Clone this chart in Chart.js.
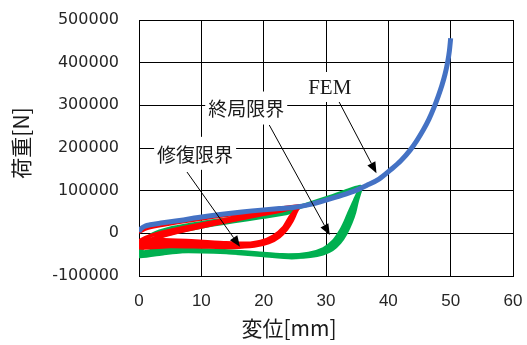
<!DOCTYPE html>
<html>
<head>
<meta charset="utf-8">
<script src="https://cdn.jsdelivr.net/npm/chart.js@4/dist/chart.umd.min.js"></script>
<style>
  html, body { margin: 0; padding: 0; background: #fff; }
  canvas { display: block; }
</style>
</head>
<body>
<canvas id="c" width="527" height="345"></canvas>
<script>
// Axis ranges and tick steps
const xTicks = { min: 0, max: 60, step: 10 };
const yTicks = { min: -100000, max: 500000, step: 100000 };

// FEM analysis: load [N] vs displacement [mm]
const femCurve = [
  [0, 4000], [0.4, 12000], [1, 17000], [1.8, 20000], [3.5, 24000], [6.5, 30000],
  [9.5, 37000], [13, 44000], [16.5, 50000], [20, 55000], [22.5, 58000], [25, 61000],
  [27.5, 68000], [30, 78000], [32.5, 89000], [35, 102000], [36.5, 112000],
  [38.5, 127000], [40.3, 148000], [42, 170000], [43.5, 195000], [44.6, 218000],
  [45.6, 242000], [46.5, 267000], [47.3, 294000], [48, 321000], [48.6, 347000],
  [49.1, 373000], [49.5, 400000], [49.8, 428000], [50, 457000]
];

// Cyclic test up to the repair limit (several recorded cycles)
const repairLimitLoop = [
  [0, 2000], [1, 10000], [3, 17000], [7, 27000], [12, 38000], [17, 48000], [21, 55000], [25.6, 64000],
  [25.2, 50000], [24.6, 30000], [23.7, 10000], [22.5, -8000], [20.8, -22000], [18.5, -30000],
  [15, -33000], [10, -32000], [5, -31000], [0, -34000],
  [1, -22000], [3, -10000], [6, 2000], [10, 15000], [14, 27000], [18, 39000], [22, 50000], [25.4, 61000],
  [24.9, 45000], [24.2, 25000], [23.2, 5000], [21.8, -12000], [19.8, -24000], [17, -28000],
  [13, -27000], [8, -24000], [4, -22000], [0, -25000],
  [1.5, -16000], [4, -4000], [8, 9000], [12, 21000], [16, 33000], [20, 45000], [23, 53000], [25.2, 60000],
  [24.5, 40000], [23.6, 18000], [22.3, -2000], [20.6, -16000], [18, -23000], [14, -22000],
  [9, -18000], [4, -15000], [0, -18000],
  [1, -10000], [3, 0], [7, 13000], [12, 27000], [17, 41000], [21.5, 52000], [25.3, 62000],
  [24.2, 38000], [23.2, 14000], [21.6, -6000], [19.5, -19000], [16.5, -25000], [12, -25000],
  [6, -22000], [0, -30000]
];

// Cyclic test up to the ultimate limit (several recorded cycles)
const ultimateLimitLoop = [
  [0, -50000], [0.6, -25000], [1.8, -5000], [4, 8000], [8, 20000], [13, 31000], [18, 41000],
  [22, 50000], [25.5, 61000], [28, 70000], [31, 84000], [33.5, 96000], [35.6, 108000],
  [35.4, 95000], [35, 75000], [34.6, 50000], [34, 25000], [33.2, 0], [32.2, -22000], [31, -38000],
  [29.5, -48000], [27.5, -54000], [25, -56000], [22, -53000], [18, -49000], [14, -45000],
  [10, -43000], [6, -43000], [3, -45000], [0, -40000],
  [1, -15000], [2.5, 0], [5, 12000], [9, 22000], [14, 33000], [19, 43000], [23, 52000],
  [26, 64000], [29, 76000], [32, 90000], [35.3, 106000],
  [34.8, 80000], [34.2, 55000], [33.6, 30000], [32.8, 5000], [31.8, -15000], [30.5, -32000],
  [28.5, -43000], [26, -50000], [23, -50000], [19, -46000], [15, -42000], [11, -39000],
  [7, -38000], [3, -38000], [0, -45000],
  [1.2, -25000], [3, -10000], [6, 3000], [10, 15000], [15, 27000], [20, 38000], [24, 48000],
  [26, 62000], [30, 82000], [35.5, 110000],
  [35, 88000], [34.5, 62000], [33.9, 38000], [33.2, 15000], [32.4, -8000], [31.3, -28000],
  [29.8, -42000], [27.5, -52000], [24.5, -57000], [20, -52000], [16, -47000], [12, -43000],
  [8, -42000], [4, -47000], [0, -54000],
  [0.8, -30000], [2.5, -12000], [6, 5000], [11, 19000], [17, 34000], [23, 49000],
  [26.5, 66000], [31, 88000], [35.4, 108000],
  [34.6, 78000], [33.8, 52000], [33.1, 28000], [32.3, 5000], [31.2, -18000], [29.6, -36000],
  [27.2, -47000], [24, -51000], [19, -48000], [13, -43000], [7, -40000], [2, -43000], [0, -48000]
];

// Callout labels (anchored in data units) and their arrows
const calloutLabels = [
  { text: 'FEM', at: [30.6, 343000], serif: true },
  { text: '終局限界', at: [17.2, 293700], serif: false },
  { text: '修復限界', at: [9.0, 187500], serif: false }
];
const calloutArrows = [
  { from: [32.1, 308000], to: [38.1, 141000] },
  { from: [20.9, 253800], to: [30.6, -4000] },
  { from: [7.7, 143700], to: [16.2, -31400] }
];

const xTitle = '変位[mm]';
const yTitle = '荷重[N]';

const toPoints = arr => arr.map(([x, y]) => ({ x, y }));

const calloutPlugin = {
  id: 'callouts',
  afterDatasetsDraw(chart) {
    const { ctx, scales: { x, y } } = chart;
    const px = p => [x.getPixelForValue(p[0]), y.getPixelForValue(p[1])];
    ctx.save();
    // arrows
    calloutArrows.forEach(a => {
      const [x0, y0] = px(a.from);
      const [x1, y1] = px(a.to);
      const ang = Math.atan2(y1 - y0, x1 - x0);
      const headLen = 11, headHalf = 4.5;
      const bx = x1 - Math.cos(ang) * headLen;
      const by = y1 - Math.sin(ang) * headLen;
      ctx.strokeStyle = '#000';
      ctx.lineWidth = 1;
      ctx.beginPath();
      ctx.moveTo(x0, y0);
      ctx.lineTo(bx, by);
      ctx.stroke();
      ctx.fillStyle = '#000';
      ctx.beginPath();
      ctx.moveTo(x1, y1);
      ctx.lineTo(bx + Math.sin(ang) * headHalf, by - Math.cos(ang) * headHalf);
      ctx.lineTo(bx - Math.sin(ang) * headHalf, by + Math.cos(ang) * headHalf);
      ctx.closePath();
      ctx.fill();
    });
    // labels with white boxes
    calloutLabels.forEach(l => {
      const [cx, cy] = px(l.at);
      ctx.font = l.serif ? '21px "Liberation Serif"' : '19px "Noto Sans CJK JP"';
      const w = ctx.measureText(l.text).width;
      const h = l.serif ? 30 : 33;
      ctx.fillStyle = '#fff';
      ctx.fillRect(cx - w / 2 - 3, cy - h / 2, w + 6, h);
      ctx.fillStyle = '#1a1a1a';
      ctx.textAlign = 'center';
      ctx.textBaseline = 'middle';
      ctx.fillText(l.text, cx, cy + 1);
    });
    ctx.restore();
  },
  afterDraw(chart) {
    const { ctx } = chart;
    ctx.save();
    ctx.fillStyle = '#1a1a1a';
    ctx.font = '21px "Noto Sans CJK JP"';
    ctx.textAlign = 'center';
    ctx.textBaseline = 'middle';
    ctx.fillText(xTitle, 289, 328);
    ctx.translate(21, 143);
    ctx.rotate(-Math.PI / 2);
    ctx.fillText(yTitle, 0, 0);
    ctx.restore();
  }
};

new Chart(document.getElementById('c'), {
  type: 'scatter',
  data: {
    datasets: [
      {
        label: 'FEM',
        data: toPoints(femCurve),
        showLine: true,
        borderColor: '#4472C4',
        borderWidth: 5,
        pointRadius: 0,
        cubicInterpolationMode: 'monotone',
        order: 1
      },
      {
        label: '修復限界',
        data: toPoints(repairLimitLoop),
        showLine: true,
        borderColor: '#FF0000',
        borderWidth: 3.5,
        pointRadius: 0,
        tension: 0.2,
        order: 2
      },
      {
        label: '終局限界',
        data: toPoints(ultimateLimitLoop),
        showLine: true,
        borderColor: '#00B050',
        borderWidth: 3.5,
        pointRadius: 0,
        tension: 0.2,
        order: 3
      }
    ]
  },
  options: {
    responsive: false,
    animation: false,
    layout: { padding: { top: 20, right: 14, left: 0, bottom: 0 } },
    plugins: { legend: { display: false }, tooltip: { enabled: false } },
    scales: {
      x: {
        type: 'linear',
        min: xTicks.min, max: xTicks.max,
        ticks: { stepSize: xTicks.step, padding: 15, color: '#262626',
                 font: { family: 'Liberation Sans', size: 17 },
                 callback: v => String(v) },
        grid: { color: '#000', lineWidth: 1, drawTicks: false },
        border: { color: '#000', width: 1 },
        afterFit: s => { s.height = 69; s.paddingLeft = 0; s.paddingRight = 0; }
      },
      y: {
        type: 'linear',
        min: yTicks.min, max: yTicks.max,
        ticks: { stepSize: yTicks.step, padding: 20, color: '#262626',
                 font: { family: 'DejaVu Sans', size: 16 },
                 callback: v => String(v) },
        grid: { color: '#000', lineWidth: 1, drawTicks: false },
        border: { color: '#000', width: 1 },
        afterFit: s => { s.width = 139; s.paddingTop = 0; s.paddingBottom = 0; }
      }
    }
  },
  plugins: [calloutPlugin]
});
</script>
</body>
</html>
